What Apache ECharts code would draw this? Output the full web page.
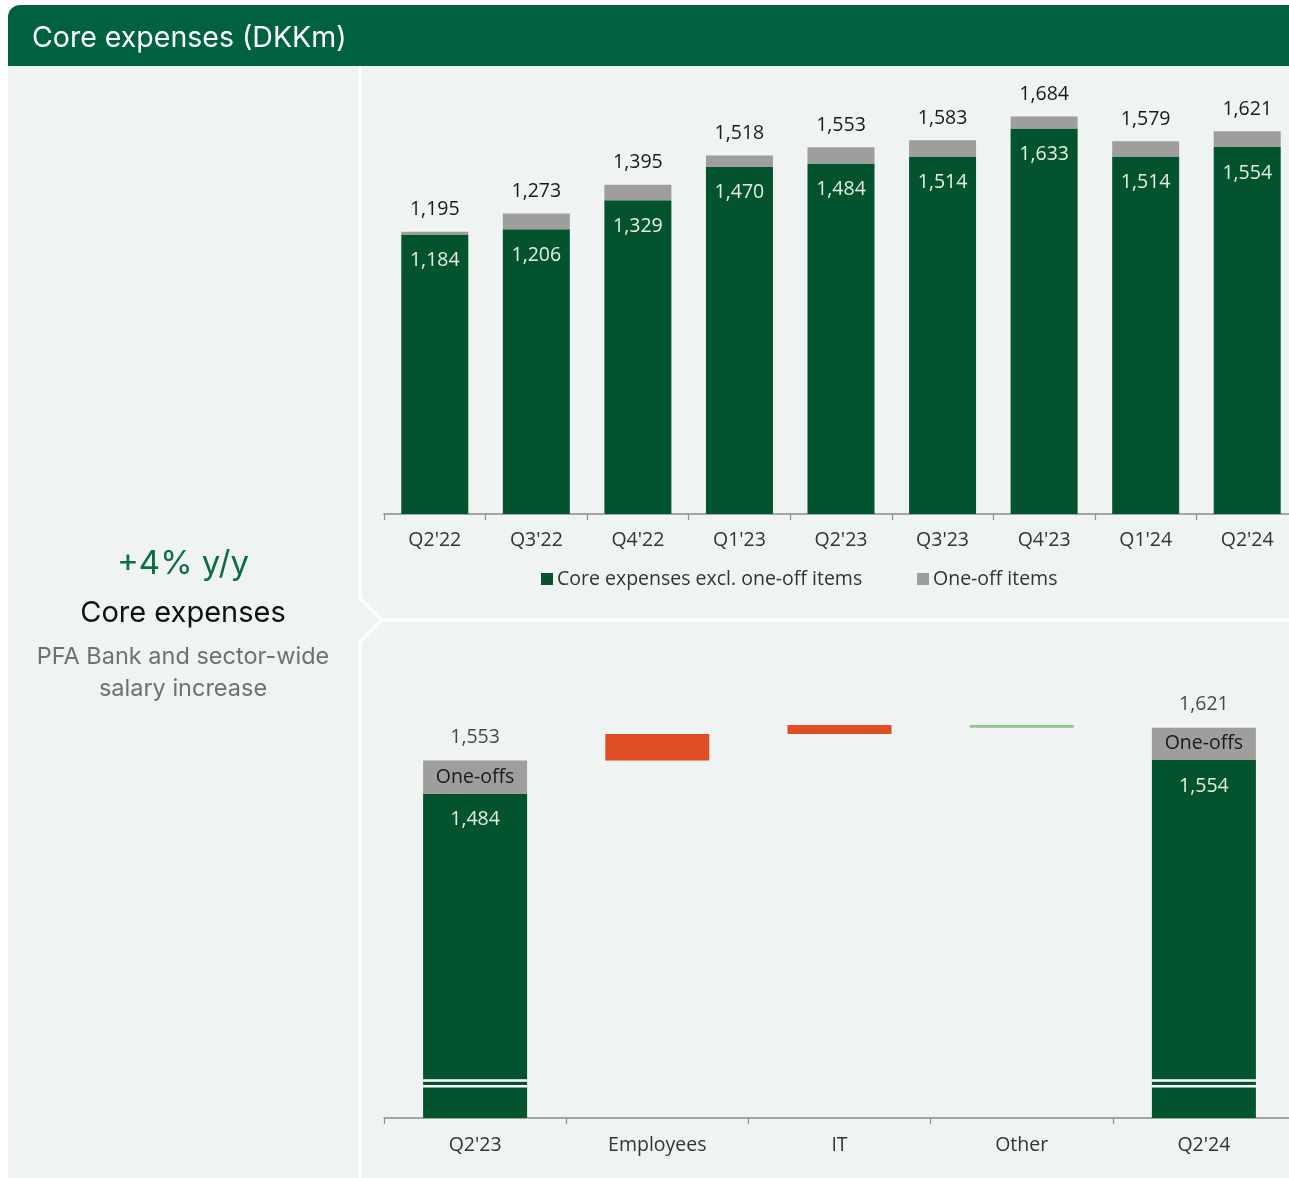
<!DOCTYPE html>
<html>
<head>
<meta charset="utf-8">
<script src="https://cdn.jsdelivr.net/npm/echarts@6/dist/echarts.min.js"></script>
<style>
  html, body { margin: 0; padding: 0; background: #ffffff; }
  #chart { width: 1289px; height: 1178px; }
</style>
</head>
<body>
<div id="chart"></div>
<script>
// Quarterly core expenses (DKKm)
const quarters = ["Q2'22", "Q3'22", "Q4'22", "Q1'23", "Q2'23", "Q3'23", "Q4'23", "Q1'24", "Q2'24"];
const coreExcl = [1184, 1206, 1329, 1470, 1484, 1514, 1633, 1514, 1554];
const coreTotal = [1195, 1273, 1395, 1518, 1553, 1583, 1684, 1579, 1621];

// Y/Y bridge Q2'23 -> Q2'24
const bridgeCats = ["Q2'23", "Employees", "IT", "Other", "Q2'24"];
const bridgeCore = [1484, 1554];      // start, end (excl. one-offs)
const bridgeTotal = [1553, 1621];     // start, end (incl. one-offs)
const driverValues = [55, 19, -6];    // Employees, IT, Other

const FONT = '"Open Sans", "Noto Sans", sans-serif';
const HEAD_FONT = 'Inter, "Noto Sans", sans-serif';
const FS = 19.5;
const GREEN = '#03532f';
const GREY = '#9e9e9c';
const ORANGE = '#e04d24';
const LIGHT_GREEN = '#8dc68b';
const PANEL = '#eff3f2';
const fmt = v => v.toLocaleString('en-US');

const oneOffs = coreTotal.map((t, i) => t - coreExcl[i]);

// waterfall pieces
const n = bridgeCats.length;
const blank = () => new Array(n).fill('-');
const baseData = blank(), upData = blank(), downData = blank(), coreData = blank(), oneOffData = blank();
coreData[0] = bridgeCore[0];
oneOffData[0] = bridgeTotal[0] - bridgeCore[0];
coreData[n - 1] = bridgeCore[1];
oneOffData[n - 1] = bridgeTotal[1] - bridgeCore[1];
let running = bridgeTotal[0];
driverValues.forEach((d, i) => {
  const idx = i + 1;
  if (d >= 0) { baseData[idx] = running; upData[idx] = d; }
  else { baseData[idx] = running + d; downData[idx] = -d; }
  running += d;
});
const totalPoints = [[0, bridgeTotal[0]], [n - 1, bridgeTotal[1]]];

const BAR_W_TOP = 67;
const BAR_W_BRIDGE = 104;
// axis break drawn across the two end bars
const breakValues = [888, 876];

const axisCommon = {
  type: 'category',
  axisLine: { lineStyle: { color: '#8c8c8c', width: 1.5 } },
  axisTick: { show: true, length: 6, lineStyle: { color: '#8c8c8c', width: 1.2 } },
  axisLabel: { color: '#333', fontSize: FS, fontFamily: FONT }
};

const chart = echarts.init(document.getElementById('chart'), null, { renderer: 'canvas' });

chart.setOption({
  backgroundColor: '#ffffff',
  animation: false,
  textStyle: { fontFamily: FONT },
  graphic: [
    // panels
    { type: 'rect', z: -10, shape: { x: 8, y: 60, width: 1290, height: 1120 }, style: { fill: PANEL } },
    { type: 'polyline', z: -9, shape: { points: [[360, 62], [360, 598], [382, 620], [1295, 620]] },
      style: { stroke: '#ffffff', lineWidth: 3.5, fill: null } },
    { type: 'polyline', z: -9, shape: { points: [[382, 620], [360, 642], [360, 1180]] },
      style: { stroke: '#ffffff', lineWidth: 3.5, fill: null } },
    // header
    { type: 'rect', z: -8, shape: { x: 8, y: 5, width: 1290, height: 61, r: [12, 0, 0, 0] }, style: { fill: '#00623f' } },
    { type: 'text', z: -7, style: { x: 32, y: 38, text: 'Core expenses (DKKm)', fill: '#ffffff', font: '400 28.5px ' + HEAD_FONT, verticalAlign: 'middle' } },
    // side panel text
    { type: 'text', z: -7, style: { x: 183, y: 564, text: '+4% y/y', fill: '#0e6b44', font: '400 33px ' + HEAD_FONT, align: 'center', verticalAlign: 'middle' } },
    { type: 'text', z: -7, style: { x: 183, y: 613, text: 'Core expenses', fill: '#111111', font: '400 29px ' + HEAD_FONT, align: 'center', verticalAlign: 'middle' } },
    { type: 'text', z: -7, style: { x: 183, y: 657, text: 'PFA Bank and sector-wide', fill: '#707070', font: '400 23.5px ' + HEAD_FONT, align: 'center', verticalAlign: 'middle' } },
    { type: 'text', z: -7, style: { x: 183, y: 689, text: 'salary increase', fill: '#707070', font: '400 23.5px ' + HEAD_FONT, align: 'center', verticalAlign: 'middle' } }
  ],
  legend: [
    { data: ['Core expenses excl. one-off items'], left: 536, top: 564, icon: 'rect', itemWidth: 12, itemHeight: 12, itemGap: 4,
      textStyle: { color: '#333', fontSize: FS, fontFamily: FONT, padding: [0, 0, 0, -1] } },
    { data: ['One-off items'], left: 912, top: 564, icon: 'rect', itemWidth: 12, itemHeight: 12,
      textStyle: { color: '#333', fontSize: FS, fontFamily: FONT, padding: [0, 0, 0, -1] } }
  ],
  grid: [
    { left: 384, width: 914, top: 89, height: 425, outerBoundsMode: 'none' },
    { left: 384, width: 911, top: 709, height: 409, outerBoundsMode: 'none' }
  ],
  xAxis: [
    Object.assign({}, axisCommon, { gridIndex: 0, data: quarters, axisLabel: Object.assign({}, axisCommon.axisLabel, { margin: 16.5 }) }),
    Object.assign({}, axisCommon, { gridIndex: 1, data: bridgeCats, axisLabel: Object.assign({}, axisCommon.axisLabel, { margin: 17.5 }) })
  ],
  yAxis: [
    { gridIndex: 0, type: 'value', min: 0, max: 1800, show: false, splitLine: { show: false } },
    { gridIndex: 1, type: 'value', min: 810, max: 1660, show: false, splitLine: { show: false } }
  ],
  series: [
    {
      name: 'Core expenses excl. one-off items', type: 'bar', stack: 'q', xAxisIndex: 0, yAxisIndex: 0,
      barWidth: BAR_W_TOP, data: coreExcl, itemStyle: { color: GREEN },
      label: { show: true, position: 'insideTop', distance: 16, color: '#e8ece9', fontSize: FS, fontFamily: FONT, formatter: p => fmt(p.value) }
    },
    {
      name: 'One-off items', type: 'bar', stack: 'q', xAxisIndex: 0, yAxisIndex: 0,
      barWidth: BAR_W_TOP, data: oneOffs, itemStyle: { color: GREY },
      label: { show: true, position: 'top', distance: 12, color: '#1a1a1a', fontSize: FS, fontFamily: FONT, formatter: p => fmt(coreTotal[p.dataIndex]) }
    },
    // bridge
    { name: 'base', type: 'bar', stack: 'w', xAxisIndex: 1, yAxisIndex: 1, barWidth: BAR_W_BRIDGE,
      data: baseData, itemStyle: { color: 'rgba(0,0,0,0)' }, silent: true },
    { name: 'Increase', type: 'bar', stack: 'w', xAxisIndex: 1, yAxisIndex: 1, barWidth: BAR_W_BRIDGE,
      data: upData, itemStyle: { color: ORANGE } },
    { name: 'Decrease', type: 'bar', stack: 'w', xAxisIndex: 1, yAxisIndex: 1, barWidth: BAR_W_BRIDGE,
      data: downData, itemStyle: { color: LIGHT_GREEN } },
    { name: 'Core', type: 'bar', stack: 'w', xAxisIndex: 1, yAxisIndex: 1, barWidth: BAR_W_BRIDGE,
      data: coreData, itemStyle: { color: GREEN },
      label: { show: true, position: 'insideTop', distance: 16, color: '#e8ece9', fontSize: FS, fontFamily: FONT,
        formatter: p => fmt(p.dataIndex === 0 ? bridgeCore[0] : bridgeCore[1]) } },
    { name: 'One-offs', type: 'bar', stack: 'w', xAxisIndex: 1, yAxisIndex: 1, barWidth: BAR_W_BRIDGE,
      data: oneOffData, itemStyle: { color: GREY },
      label: { show: true, position: 'inside', color: '#1a1a1a', fontSize: FS, fontFamily: FONT, formatter: 'One-offs' } },
    { name: 'Total', type: 'scatter', xAxisIndex: 1, yAxisIndex: 1, symbolSize: 0, data: totalPoints, z: 4,
      label: { show: true, position: 'top', distance: 13, color: '#1a1a1a', fontSize: FS, fontFamily: FONT, formatter: p => fmt(p.value[1]) } },
    { name: 'Axis break', type: 'custom', xAxisIndex: 1, yAxisIndex: 1, z: 5, silent: true,
      data: [[0], [n - 1]],
      renderItem: (params, api) => {
        const children = breakValues.map(v => {
          const c = api.coord([api.value(0), v]);
          return { type: 'rect', shape: { x: c[0] - BAR_W_BRIDGE / 2, y: c[1] - 1.3, width: BAR_W_BRIDGE, height: 2.6 }, style: { fill: '#ffffff' } };
        });
        return { type: 'group', children };
      }
    }
  ]
});
</script>
</body>
</html>
